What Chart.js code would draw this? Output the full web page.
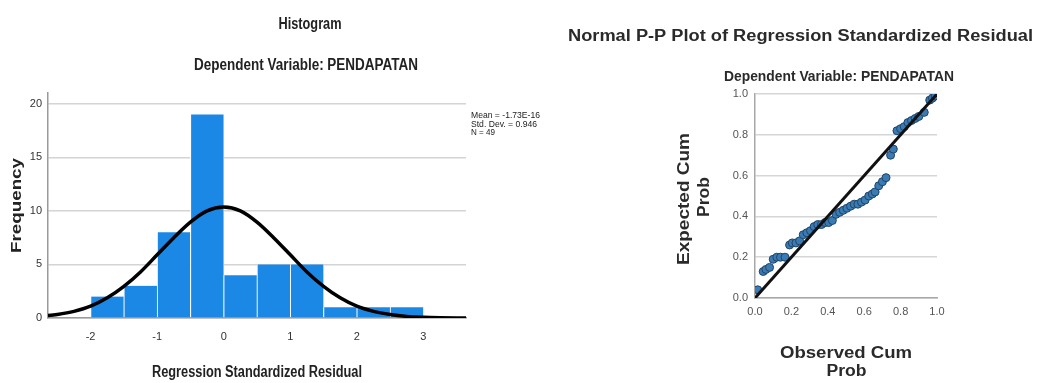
<!DOCTYPE html>
<html><head><meta charset="utf-8">
<script src="https://cdn.jsdelivr.net/npm/chart.js@4.4.1/dist/chart.umd.min.js"></script>
<style>
html,body{margin:0;padding:0;background:#fff;}
#wrap{position:relative;width:1053px;height:383px;overflow:hidden;background:#fff;}
#c1{position:absolute;left:0;top:0;}
#c2{position:absolute;left:560px;top:0;}
</style></head><body>
<div id="wrap"><canvas id="c1" width="560" height="383"></canvas><canvas id="c2" width="493" height="383"></canvas></div>
<script>
// ---- Histogram data ----
const binCenters = [-1.75, -1.25, -0.75, -0.25, 0.25, 0.75, 1.25, 1.75, 2.25, 2.75];
const frequencies = [2, 3, 8, 19, 4, 5, 5, 1, 1, 1];
const curveX = [-2.75, -2.5, -2.25, -2, -1.75, -1.5, -1.25, -1, -0.75, -0.5, -0.25, 0, 0.25, 0.5, 0.75, 1, 1.25, 1.5, 1.75, 2, 2.25, 2.5, 2.75, 3, 3.25, 3.5, 3.75];
const curveY = [0.15, 0.33, 0.62, 1.1, 1.88, 2.95, 4.3, 5.9, 7.5, 8.95, 10.0, 10.35, 10.0, 8.95, 7.5, 5.9, 4.3, 2.95, 1.88, 1.1, 0.62, 0.33, 0.15, 0.07, 0.03, 0.01, 0.0];
const histXTicks = [-2, -1, 0, 1, 2, 3];
const histYTicks = [0, 5, 10, 15, 20];
const histStats = ['Mean = -1.73E-16', 'Std. Dev. = 0.946', 'N = 49'];

// ---- P-P plot data ----
const ppObserved = [0.015, 0.045, 0.06, 0.08, 0.10, 0.12, 0.14, 0.165, 0.19, 0.205, 0.225, 0.245, 0.265, 0.285, 0.305, 0.325, 0.345, 0.365, 0.385, 0.405, 0.425, 0.445, 0.465, 0.485, 0.505, 0.525, 0.545, 0.565, 0.585, 0.605, 0.625, 0.645, 0.66, 0.68, 0.70, 0.72, 0.745, 0.76, 0.78, 0.80, 0.82, 0.84, 0.86, 0.88, 0.90, 0.93, 0.96, 0.975, 0.99];
const ppExpected = [0.04, 0.13, 0.14, 0.15, 0.19, 0.20, 0.20, 0.20, 0.26, 0.27, 0.27, 0.28, 0.31, 0.32, 0.33, 0.35, 0.36, 0.36, 0.37, 0.37, 0.38, 0.41, 0.42, 0.43, 0.44, 0.45, 0.46, 0.46, 0.47, 0.48, 0.50, 0.51, 0.52, 0.55, 0.57, 0.59, 0.70, 0.73, 0.82, 0.83, 0.84, 0.86, 0.87, 0.88, 0.89, 0.91, 0.97, 0.98, 0.99];
const refLineX = [0, 1];
const refLineY = [0, 1];
const ppTicks = [0, 0.2, 0.4, 0.6, 0.8, 1.0];

const NARROW = "'Liberation Sans Narrow', 'Liberation Sans', Arial, sans-serif";
const SANS = "'Liberation Sans', Arial, sans-serif";

function fitText(ctx, text, x, y, font, width, opts) {
  opts = opts || {};
  ctx.save();
  ctx.font = font;
  ctx.fillStyle = opts.color || '#1a1a1a';
  ctx.textBaseline = 'alphabetic';
  ctx.textAlign = 'left';
  const w = ctx.measureText(text).width;
  const sx = width ? width / w : 1;
  ctx.translate(x, y);
  if (opts.rotate) ctx.rotate(opts.rotate);
  ctx.scale(sx, 1);
  ctx.fillText(text, opts.left ? 0 : -w / 2, 0);
  ctx.restore();
}

const histText = {
  id: 'histText',
  afterDraw(chart) {
    const ctx = chart.ctx;
    fitText(ctx, 'Histogram', 310, 29, 'bold 16px ' + SANS, 63, {color: '#222'});
    fitText(ctx, 'Dependent Variable: PENDAPATAN', 306, 70, 'bold 16px ' + SANS, 224, {color: '#222'});
    fitText(ctx, 'Regression Standardized Residual', 257, 377, 'bold 16px ' + SANS, 210, {color: '#222'});
    fitText(ctx, 'Frequency', 21, 205.5, 'bold 15px ' + SANS, 95, {rotate: -Math.PI / 2, color: '#222'});
    const ys = [118, 126.7, 134.7];
    const ws = [69, 66, 24];
    histStats.forEach((t, i) => fitText(ctx, t, 471, ys[i], '9px ' + SANS, ws[i], {left: true, color: '#222'}));
  }
};

new Chart(document.getElementById('c1'), {
  type: 'bar',
  data: {
    datasets: [
      {
        type: 'line',
        data: curveX.map((x, i) => ({x: x, y: curveY[i]})),
        borderColor: '#000',
        borderWidth: 3.5,
        pointRadius: 0,
        cubicInterpolationMode: 'monotone',
        fill: false,
        order: 0,
        clip: 0
      },
      {
        type: 'bar',
        data: binCenters.map((x, i) => ({x: x, y: frequencies[i]})),
        backgroundColor: '#1c88e6',
        borderColor: '#ffffff',
        borderWidth: {left: 1, right: 0.5, top: 0, bottom: 0},
        borderSkipped: false,
        barPercentage: 1,
        categoryPercentage: 1,
        order: 1
      }
    ]
  },
  options: {
    responsive: false,
    animation: false,
    devicePixelRatio: 1,
    layout: {padding: {left: 0, right: 94, top: 93, bottom: 0}},
    plugins: {legend: {display: false}, tooltip: {enabled: false}, title: {display: false}},
    scales: {
      x: {
        type: 'linear', min: -2.64, max: 3.64, offset: false,
        grid: {display: false, drawTicks: false},
        border: {display: true, color: '#9a9a9a', width: 1.5},
        afterBuildTicks: s => { s.ticks = histXTicks.map(v => ({value: v})); },
        afterFit: s => { s.height = 65; },
        ticks: {padding: 12, autoSkip: false, maxRotation: 0, color: '#333', font: {family: NARROW, size: 11}}
      },
      y: {
        min: 0, max: 21,
        grid: {color: '#d4d4d4', lineWidth: 1.5, drawTicks: false},
        border: {display: true, color: '#9a9a9a', width: 1.5},
        afterBuildTicks: s => { s.ticks = histYTicks.map(v => ({value: v})); },
        afterFit: s => { s.width = 48; },
        ticks: {padding: 6, color: '#333', font: {family: NARROW, size: 11}}
      }
    }
  },
  plugins: [histText]
});

const ppText = {
  id: 'ppText',
  afterDraw(chart) {
    const ctx = chart.ctx;
    fitText(ctx, 'Normal P-P Plot of Regression Standardized Residual', 240.5, 40.5, 'bold 16px ' + SANS, 465, {color: '#2a2a2a'});
    fitText(ctx, 'Dependent Variable: PENDAPATAN', 279, 81, 'bold 15px ' + SANS, 230, {color: '#2a2a2a'});
    fitText(ctx, 'Observed Cum', 286, 358, 'bold 16px ' + SANS, 132, {color: '#2a2a2a'});
    fitText(ctx, 'Prob', 286.5, 376, 'bold 16px ' + SANS, 40, {color: '#2a2a2a'});
    fitText(ctx, 'Expected Cum', 129, 199, 'bold 16px ' + SANS, 132, {rotate: -Math.PI / 2, color: '#2a2a2a'});
    fitText(ctx, 'Prob', 149, 197, 'bold 16px ' + SANS, 40, {rotate: -Math.PI / 2, color: '#2a2a2a'});
  }
};

new Chart(document.getElementById('c2'), {
  type: 'scatter',
  data: {
    datasets: [
      {
        type: 'line',
        data: refLineX.map((x, i) => ({x: x, y: refLineY[i]})),
        borderColor: '#111',
        borderWidth: 3,
        pointRadius: 0,
        fill: false,
        order: 0
      },
      {
        data: ppObserved.map((x, i) => ({x: x, y: ppExpected[i]})),
        pointRadius: 4,
        backgroundColor: '#3b7bb4',
        borderColor: '#1f4468',
        borderWidth: 1,
        order: 1
      }
    ]
  },
  options: {
    responsive: false,
    animation: false,
    devicePixelRatio: 1,
    layout: {padding: {left: 0, right: 116, top: 94, bottom: 0}},
    plugins: {legend: {display: false}, tooltip: {enabled: false}},
    scales: {
      x: {
        type: 'linear', min: 0, max: 1,
        grid: {display: false, drawTicks: false},
        border: {display: true, color: '#a8a8a8', width: 1.5},
        afterBuildTicks: s => { s.ticks = ppTicks.map(v => ({value: v})); },
        afterFit: s => { s.height = 85; },
        ticks: {padding: 7, autoSkip: false, maxRotation: 0, color: '#555', font: {family: SANS, size: 11}, callback: v => Number(v).toFixed(1)}
      },
      y: {
        type: 'linear', min: 0, max: 1,
        grid: {color: '#d6d6d6', lineWidth: 1.5, drawTicks: false},
        border: {display: true, color: '#a8a8a8', width: 1.5},
        afterBuildTicks: s => { s.ticks = ppTicks.map(v => ({value: v})); },
        afterFit: s => { s.width = 195; },
        ticks: {padding: 7, color: '#555', font: {family: SANS, size: 11}, callback: v => Number(v).toFixed(1)}
      }
    }
  },
  plugins: [ppText]
});
</script>
</body></html>
